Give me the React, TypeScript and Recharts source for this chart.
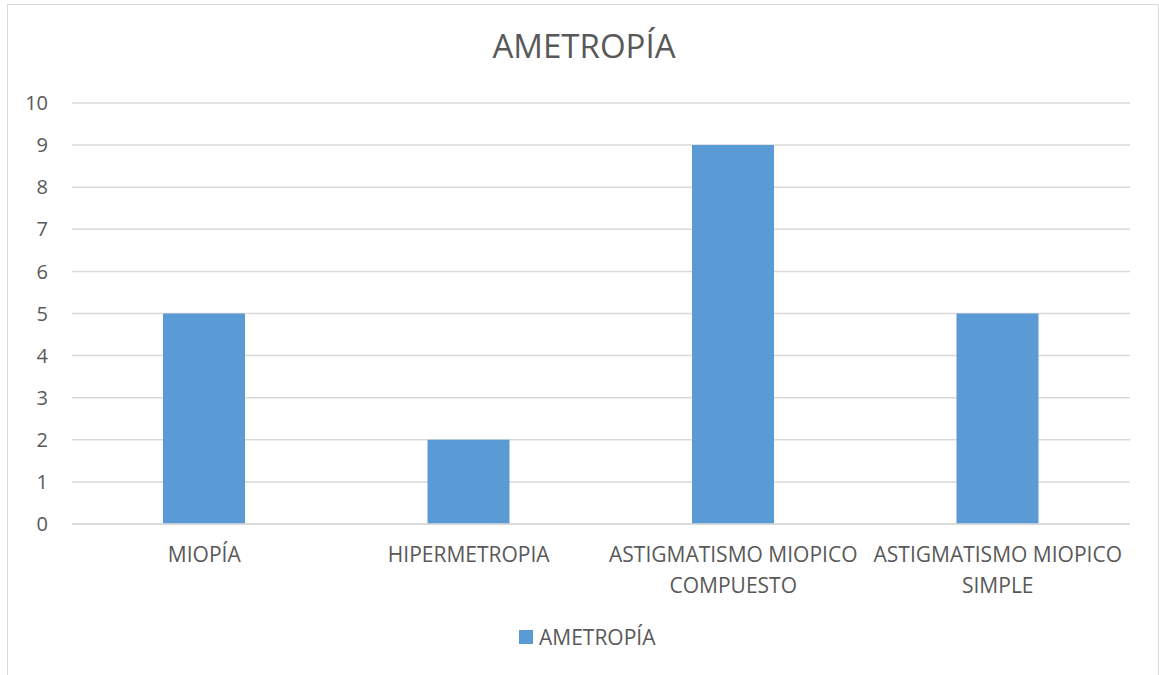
import { BarChart, Bar, XAxis, YAxis, CartesianGrid } from "recharts";

const categories = [
  "MIOPÍA",
  "HIPERMETROPIA",
  "ASTIGMATISMO MIOPICO COMPUESTO",
  "ASTIGMATISMO MIOPICO SIMPLE",
];
const ametropia = [5, 2, 9, 5];
const yTicks = [0, 1, 2, 3, 4, 5, 6, 7, 8, 9, 10];

const seriesName = "AMETROPÍA";
const barColor = "#5B9BD5";
const textColor = "#595959";
const font = "'Open Sans', sans-serif";

const data = categories.map((name, i) => ({ name, value: ametropia[i] }));

// wrap long labels the way the category axis does (about 20 chars per line)
function wrapLabel(label: string, maxChars = 21) {
  const lines: string[] = [];
  let cur = "";
  label.split(" ").forEach((w) => {
    const next = cur ? cur + " " + w : w;
    if (next.length > maxChars && cur) {
      lines.push(cur);
      cur = w;
    } else {
      cur = next;
    }
  });
  if (cur) lines.push(cur);
  return lines;
}

function CategoryTick(props: any) {
  const { x, y, payload } = props;
  const lines = wrapLabel(payload.value);
  return (
    <text
      x={x}
      y={y + 13}
      textAnchor="middle"
      fill={textColor}
      fontSize={21}
      fontFamily={font}
    >
      {lines.map((l, i) => (
        <tspan key={i} x={x} dy={i === 0 ? "0.8em" : 31}>
          {l}
        </tspan>
      ))}
    </text>
  );
}

export default function App() {
  return (
    <div
      style={{
        position: "absolute",
        left: 0,
        top: 0,
        width: 1159,
        height: 675,
        background: "#fff",
        overflow: "hidden",
        fontFamily: font,
      }}
    >
      <div
        style={{
          position: "absolute",
          left: 7,
          top: 4,
          width: 1150,
          height: 700,
          border: "1.5px solid #D9D9D9",
        }}
      />
      <div
        style={{
          position: "absolute",
          left: 0,
          top: 23,
          width: 1168,
          textAlign: "center",
          fontSize: 33,
          color: textColor,
        }}
      >
        {seriesName}
      </div>
      <div style={{ position: "absolute", left: 0, top: 0 }}>
        <BarChart
          width={1159}
          height={675}
          data={data}
          margin={{ top: 103, right: 29, left: 0, bottom: 81 }}
        >
          <CartesianGrid vertical={false} stroke="#D9D9D9" strokeWidth={1.5} />
          <XAxis
            dataKey="name"
            height={70}
            axisLine={{ stroke: "#D9D9D9", strokeWidth: 1.5 }}
            tickLine={false}
            interval={0}
            tick={<CategoryTick />}
          />
          <YAxis
            width={72}
            domain={[0, 10]}
            ticks={yTicks}
            interval={0}
            axisLine={false}
            tickLine={false}
            tickSize={0}
            tickMargin={24}
            tick={{ fill: textColor, fontSize: 20, fontFamily: font }}
          />
          <Bar dataKey="value" fill={barColor} barSize={82} isAnimationActive={false} />
        </BarChart>
      </div>
      <div
        style={{
          position: "absolute",
          left: 519,
          top: 623,
          display: "flex",
          alignItems: "center",
          fontSize: 21,
          color: textColor,
        }}
      >
        <span style={{ width: 14, height: 14, background: barColor, marginRight: 6, display: "inline-block" }} />
        <span>{seriesName}</span>
      </div>
    </div>
  );
}
